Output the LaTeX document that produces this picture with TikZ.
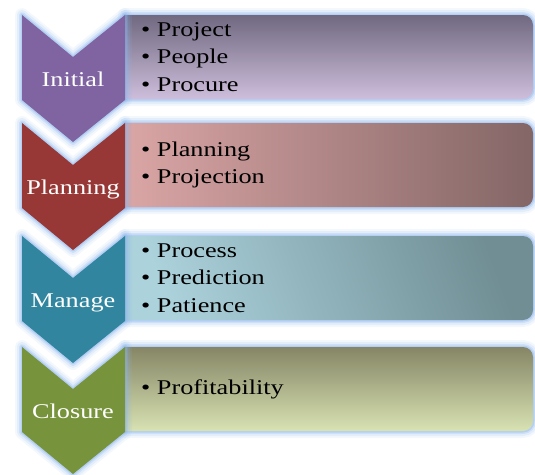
\documentclass[tikz,border=0pt]{standalone}
\usepackage{fontspec}
\setmainfont{Liberation Serif}[FakeStretch=1.25]
\usetikzlibrary{positioning}

\definecolor{initialcol}{RGB}{128,100,162}
\definecolor{planningcol}{RGB}{152,56,54}
\definecolor{managecol}{RGB}{49,133,158}
\definecolor{closurecol}{RGB}{119,147,60}
\definecolor{glowcol}{RGB}{140,182,236}

\tikzset{
  stagetext/.style={font=\fontsize{21}{24}\selectfont, text=white, anchor=base, inner sep=0pt},
  itemtext/.style={font=\fontsize{21}{27.5}\selectfont, align=left, anchor=west, inner sep=0pt},
  glow/.style={glowcol, line join=round},
  % box fillings
  initialbox/.style={top color={rgb,255:red,112;green,105;blue,128}, bottom color={rgb,255:red,206;green,190;blue,220}},
  planningbox/.style={left color={rgb,255:red,218;green,165;blue,165}, right color={rgb,255:red,132;green,102;blue,102}},
  managebox/.style={top color={rgb,255:red,112;green,142;blue,148}, bottom color={rgb,255:red,172;green,210;blue,220}, shading angle=-70},
  closurebox/.style={top color={rgb,255:red,134;green,134;blue,102}, bottom color={rgb,255:red,216;green,226;blue,178}}
}

\begin{document}
\begin{tikzpicture}[x=1pt,y=-1pt]
\useasboundingbox (0,0) rectangle (535,474);

% rows from the bottom up, so each chevron tip lies over the next one
\foreach \t/\col/\sty/\name/\items in {
    347/closurecol/closurebox/Closure/{\textbullet\ Profitability},
    236/managecol/managebox/Manage/{\textbullet\ Process\\\textbullet\ Prediction\\\textbullet\ Patience},
    123/planningcol/planningbox/Planning/{\textbullet\ Planning\\\textbullet\ Projection},
    15/initialcol/initialbox/Initial/{\textbullet\ Project\\\textbullet\ People\\\textbullet\ Procure}}
{
  % text box
  \foreach \w/\o in {14/0.1,10/0.15,6/0.25,3/0.4}
    \draw[glow, line width=\w pt, opacity=\o] (125,\t) -- (523,\t) .. controls (528.5,\t) and (533,\t+4.5) .. (533,\t+10)
      -- (533,\t+74) .. controls (533,\t+79.5) and (528.5,\t+84) .. (523,\t+84) -- (125,\t+84) -- cycle;
  \shade[\sty] (125,\t) -- (523,\t) .. controls (528.5,\t) and (533,\t+4.5) .. (533,\t+10)
      -- (533,\t+74) .. controls (533,\t+79.5) and (528.5,\t+84) .. (523,\t+84) -- (125,\t+84) -- cycle;
  % chevron
  \foreach \w/\o in {14/0.1,10/0.15,6/0.25,3/0.4}
    \draw[glow, line width=\w pt, opacity=\o] (22,\t) -- (73,\t+42) -- (125,\t) -- (125,\t+85) -- (73,\t+127) -- (22,\t+85) -- cycle;
  \fill[\col] (22,\t) -- (73,\t+42) -- (125,\t) -- (125,\t+85) -- (73,\t+127) -- (22,\t+85) -- cycle;
  \node[stagetext] (stage-\name) at (73,\t+71) {\name};
  \node[itemtext] (items-\name) at (141,\t+42) {\items};
}
\end{tikzpicture}
\end{document}
